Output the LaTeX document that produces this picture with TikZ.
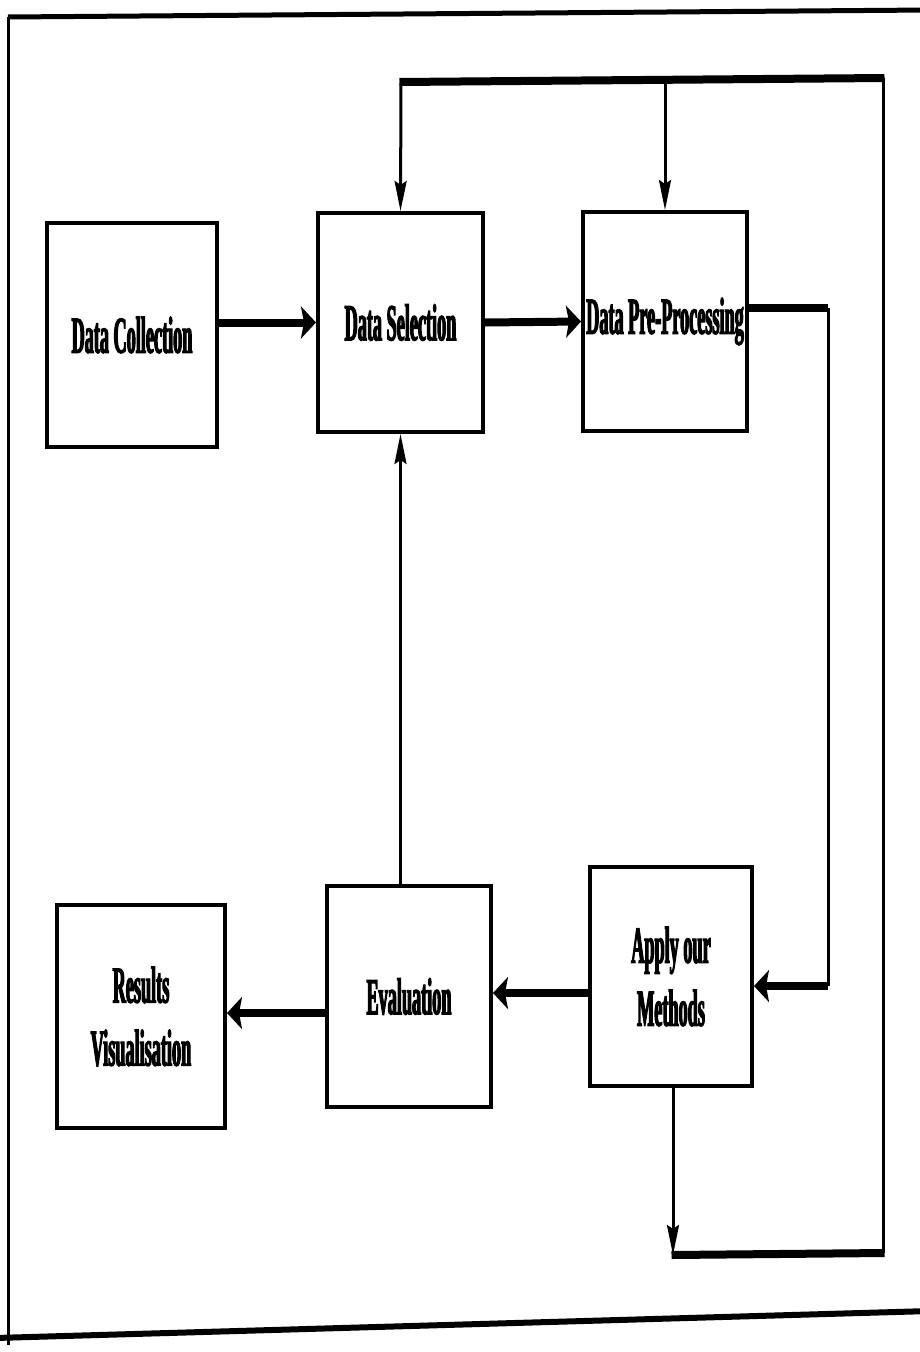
\documentclass[tikz,border=0pt]{standalone}
\usepackage{fontspec}
\setmainfont{Liberation Serif}[FakeStretch=0.35,FakeBold=2]
\usetikzlibrary{arrows.meta}
\begin{document}
\begin{tikzpicture}[x=1pt,y=-1pt,
  box/.style={draw,line width=4pt,inner sep=0pt,align=center,
    font=\fontsize{52}{63}\selectfont\bfseries},
  thinline/.style={line width=3pt},
  thickline/.style={line width=8pt},
  thinarrow/.style={thinline,-{Stealth[length=30pt,width=12pt,inset=4pt]}},
  thickarrow/.style={thickline,-{Stealth[length=15pt,width=32pt,inset=3pt]}}
]
\useasboundingbox (0,0) rectangle (919,1352);
% frame
\draw[line width=5pt] (8,17) -- (930,10);
\draw[line width=3pt] (8,17) -- (8,1345);
\draw[line width=6pt] (-5,1338) -- (930,1311);

% boxes
\node[box,minimum width=170pt,minimum height=224pt] (coll) at (132,335) {Data Collection};
\node[box,minimum width=165pt,minimum height=219pt] (sel) at (400.5,322.5) {Data Selection};
\node[box,minimum width=164pt,minimum height=219pt] (pre) at (665,321.5) {Data Pre-Processing};
\node[box,minimum width=162pt,minimum height=219pt] (app) at (671,976.5) {Apply our\\Methods};
\node[box,minimum width=164pt,minimum height=221pt] (eval) at (409,996.5) {Evaluation};
\node[box,minimum width=168pt,minimum height=223pt] (res) at (141,1016.5) {Results\\Visualisation};

% helper coordinates
\coordinate (r1) at (828,308);
\coordinate (r2) at (828,986);
\coordinate (a2e) at (0,993);
\coordinate (e2r) at (0,1013);
\coordinate (b1) at (673,1255);
\coordinate (b2) at (883,1253);
\coordinate (t2) at (883,78);
\coordinate (t1) at (401,82);

% forward flow
\draw[thickarrow] (sel.west -| coll.east) -- (sel.west);
\draw[thickarrow] (sel.east) -- (pre.west);
\draw[thickline] (pre.east |- r1) -- (r1);
\draw[thinline] (r1) -- (r2);
\draw[thickarrow] (r2) -- (app.east |- r2);
\draw[thickarrow] (app.west |- a2e) -- (eval.east |- a2e);
\draw[thickarrow] (eval.west |- e2r) -- (res.east |- e2r);
\draw[thinarrow] (eval.north -| sel.south) -- (sel.south);

% feedback loop
\draw[thinarrow] (app.south -| b1) -- (b1);
\draw[thickline] ([xshift=-1.5pt]b1) -- ([xshift=1.5pt]b2);
\draw[thinline] (b2) -- (t2);
\draw[thickline] ([xshift=1.5pt]t2) -- ([xshift=-1.5pt]t1);
\draw[thinarrow] (t1) -- (sel.north);
\draw[thinarrow] (pre.north |- t1) -- (pre.north);
\end{tikzpicture}
\end{document}
